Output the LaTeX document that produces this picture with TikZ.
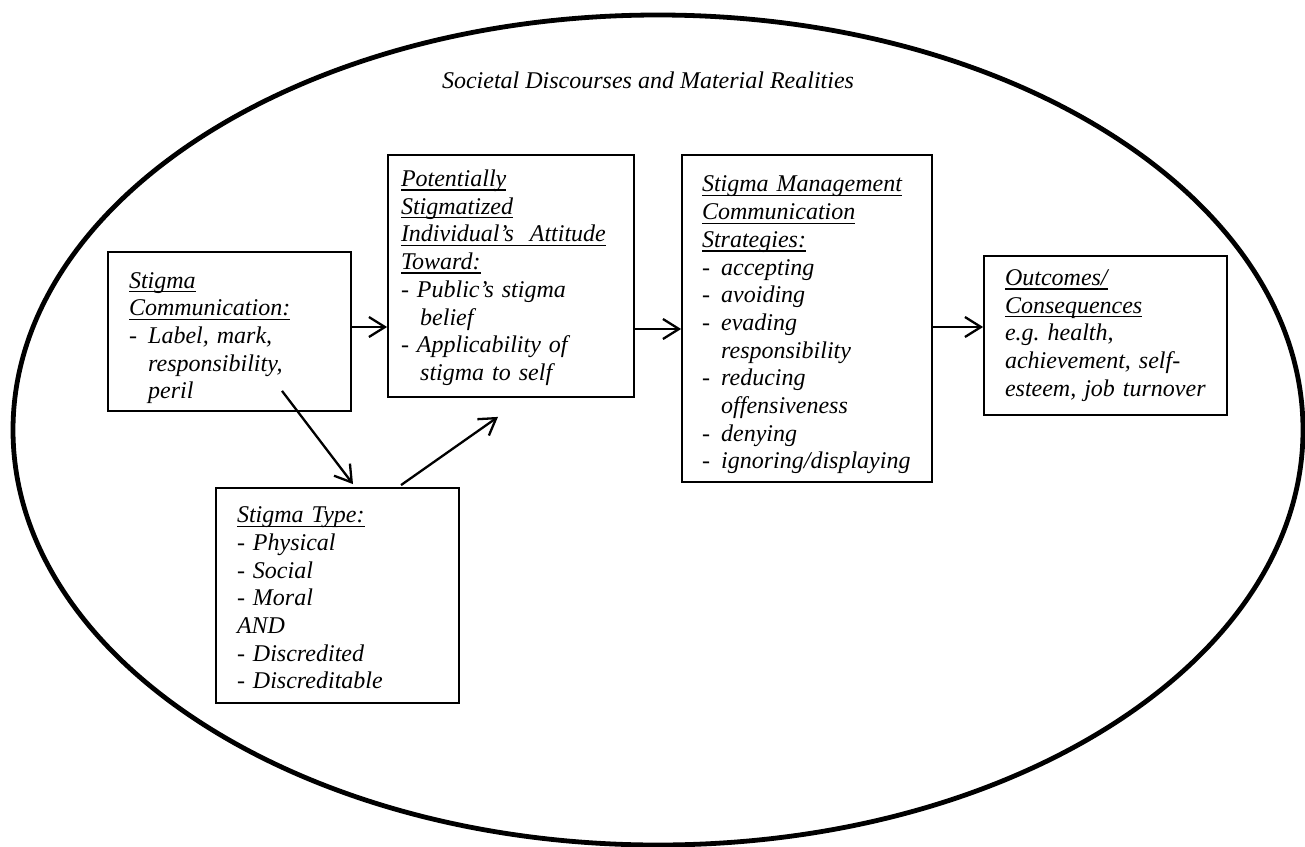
\documentclass[tikz,border=0pt]{standalone}
\usepackage{fontspec}
\setmainfont{Liberation Serif}
\usetikzlibrary{arrows.meta,calc}
\newcommand{\ulx}[1]{\leavevmode\setbox0\hbox{#1}\rlap{\rule[-4.2pt]{\wd0}{1.3pt}}\box0}
\newcommand{\dl}{\leavevmode\makebox[0.8em][l]{-}}
\newcommand{\ind}{\leavevmode\makebox[0.8em]{}}
\newcommand{\strt}[1]{\leavevmode\rule{0pt}{#1}}
\begin{document}
\begin{tikzpicture}[x=1pt,y=-1pt,
  txt/.style={font=\fontsize{24}{27.7}\selectfont\itshape},
  box/.style={txt, draw, line width=1.8pt, align=left, inner ysep=0pt},
  arr/.style={line width=2.3pt, -{Straight Barb[length=16pt,width=20pt]}}]
\useasboundingbox (0,0) rectangle (1305,846);
\draw[line width=4.8pt] (658,430) ellipse [x radius=645pt, y radius=415pt];
\node[txt] (title) at (648,80) {Societal Discourses and Material Realities};

\node[box, inner xsep=21pt, text width=201pt, minimum height=159pt] (b1) at (229.5,331.5)
  {\strt{29pt}\ulx{Stigma}\\ \ulx{Communication:}\\ \dl Label,~mark,\\ \ind responsibility,\\ \ind peril};

\node[box, inner xsep=13pt, text width=220pt, minimum height=242pt] (b2) at (511,276)
  {\strt{20pt}\ulx{Potentially}\\ \ulx{Stigmatized}\\ \ulx{Individual's\ \ Attitude}\\ \ulx{Toward:}\\
   -~Public's~stigma\\ \ind belief\\ -~Applicability~of\\ \ind stigma~to~self};

\node[box, inner xsep=20pt, text width=210pt, minimum height=327pt] (b3) at (807,318.5)
  {\strt{29pt}\ulx{Stigma Management}\\ \ulx{Communication}\\ \ulx{Strategies:}\\
   \dl accepting\\ \dl avoiding\\ \dl evading\\ \ind responsibility\\
   \dl reducing\\ \ind offensiveness\\ \dl denying\\ \dl ignoring/displaying};

\node[box, inner xsep=21pt, text width=201pt, minimum height=159pt] (b4) at (1105.5,335.5)
  {\ulx{Outcomes/}\\ \ulx{Consequences}\\ e.g.~health,\\ achievement,~self-\\ esteem,~job~turnover};

\node[box, inner xsep=21pt, text width=201pt, minimum height=215pt] (b5) at (337.5,595.5)
  {\strt{21pt}\ulx{Stigma Type:}\\ -~Physical\\ -~Social\\ -~Moral\\ AND\\ -~Discredited\\ -~Discreditable};

\draw[arr] ([yshift=4.5pt]b1.east) -- ([yshift=4.5pt]b1.east -| b2.west);
\draw[arr] ([yshift=-10.5pt]b3.west -| b2.east) -- ([yshift=-10.5pt]b3.west);
\draw[arr] ([yshift=8.5pt]b4.west -| b3.east) -- ([yshift=8.5pt]b4.west);
\draw[arr] ($(b1.south)+(52.5,-21)$) -- ($(b5.north)+(15.5,-3)$);
\draw[arr] ($(b5.north)+(63.5,-2)$) -- ($(b2.south)+(-13,19)$);
\end{tikzpicture}
\end{document}
